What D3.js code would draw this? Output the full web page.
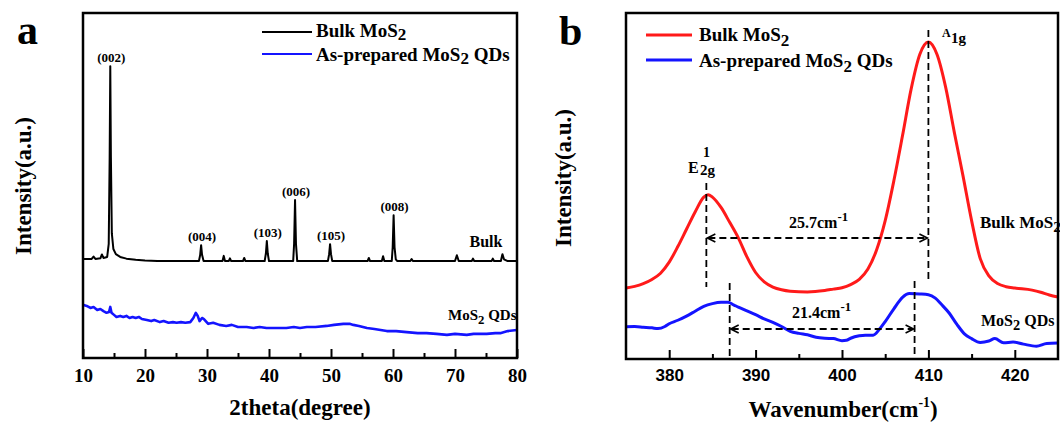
<!DOCTYPE html>
<html>
<head>
<meta charset="utf-8">
<script src="https://cdn.jsdelivr.net/npm/d3@7"></script>
<style>
  body { margin: 0; background: #fff; }
  svg text { font-family: "Liberation Serif", "Times New Roman", serif; font-weight: bold; fill: #000; }
</style>
</head>
<body>
<div id="chart"></div>
<script>
// ---------- panel a : XRD ----------
var xrdTicks = [10, 20, 30, 40, 50, 60, 70, 80];
var xrdMinor = [15, 25, 35, 45, 55, 65, 75];
// bulk MoS2, [2theta, intensity above its own baseline]
var bulkXrd = [
  [10, 0.6], [11.4, 0.6], [11.7, 1.3], [12.0, 0.6], [12.8, 0.8], [13.05, 1.9], [13.3, 0.9],
  [13.9, 1.2], [14.15, 5], [14.3, 30], [14.4, 56.5], [14.5, 30], [14.65, 8], [14.9, 3.5],
  [15.3, 2.0], [16, 1.2], [17, 0.7], [18.5, 0.35], [20, 0.15], [22, 0.05], [28.7, 0],
  [28.9, 1.8], [29.05, 4.6], [29.2, 1.8], [29.45, 0], [32.5, 0], [32.7, 1.5], [32.9, 0],
  [33.5, 0], [33.7, 0.8], [33.9, 0], [35.8, 0], [36.0, 0.9], [36.2, 0], [39.3, 0],
  [39.5, 2.2], [39.65, 5.8], [39.8, 2.2], [40.0, 0], [43.9, 0], [44.05, 5], [44.2, 17.7],
  [44.35, 5], [44.55, 0], [49.5, 0], [49.7, 2], [49.85, 4.9], [50.0, 2], [50.2, 0],
  [55.9, 0], [56.1, 0.9], [56.3, 0], [58.2, 0], [58.4, 1.4], [58.6, 0], [59.8, 0],
  [59.95, 4], [60.1, 13.3], [60.25, 4], [60.45, 0.5], [60.7, 0], [62.8, 0], [63.0, 0.6],
  [63.2, 0], [70.0, 0], [70.3, 1.7], [70.6, 0], [72.7, 0], [72.9, 0.7], [73.1, 0],
  [75.9, 0], [76.1, 0.7], [76.3, 0], [77.4, 0], [77.65, 2.0], [77.9, 0.5], [78.5, 0], [80, 0]
];
var bulkXrdOffset = 28.1;
// as-prepared MoS2 QDs
var qdXrd = [
  [10.0, 15.4], [10.6, 15.1], [11.2, 14.5], [11.7, 14.8], [12.3, 13.9], [12.8, 14.2],
  [13.3, 13.6], [13.8, 13.1], [14.2, 13.3], [14.4, 14.8], [14.6, 13.1], [15.0, 12.5],
  [15.4, 11.9], [16.0, 12.2], [16.5, 11.9], [17.0, 12.2], [17.5, 11.6], [18.0, 11.9],
  [18.5, 11.6], [19.0, 11.9], [19.5, 11.3], [20.3, 11.0], [21.0, 10.7], [21.5, 11.0],
  [22.4, 10.4], [23.0, 10.7], [23.8, 10.2], [24.5, 10.4], [25.1, 10.2], [25.8, 10.4],
  [26.5, 10.2], [27.3, 10.4], [27.8, 11.6], [28.2, 13.1], [28.5, 12.2], [28.8, 10.7],
  [29.2, 11.6], [29.5, 11.3], [30.2, 9.9], [31.0, 10.2], [32.0, 9.6], [33.1, 9.3],
  [34.0, 9.6], [35.0, 9.0], [36.4, 9.0], [37.5, 8.7], [38.5, 9.0], [39.6, 8.7],
  [41.0, 8.7], [42.8, 8.7], [44.0, 9.0], [45.0, 8.7], [46.1, 9.0], [47.5, 9.0],
  [49.3, 9.3], [50.5, 9.6], [52.0, 9.9], [53.0, 9.9], [53.6, 9.6], [54.5, 9.3],
  [55.8, 8.7], [57.0, 8.4], [59.0, 7.8], [60.5, 7.8], [62.2, 7.5], [64.0, 7.2],
  [65.4, 7.2], [67.0, 7.0], [68.7, 6.7], [70.0, 7.0], [71.9, 6.7], [73.0, 7.0],
  [75.1, 7.0], [76.5, 7.2], [77.3, 7.2], [78.5, 7.8], [80.0, 8.1]
];
var xrdLabels = ['(002)', '(004)', '(103)', '(006)', '(105)', '(008)'];
var xrdLabelPos = [14.4, 29.05, 39.65, 44.2, 49.85, 60.1];

// ---------- panel b : Raman ----------
var ramanTicks = [380, 390, 400, 410, 420];
var ramanMinor = [385, 395, 405, 415];
var bulkRaman = [
  [375, 20.5], [376, 21.0], [377, 21.8], [378, 23.0], [379, 24.8], [380, 28.0], [381, 32.5],
  [382, 37.5], [383, 42.5], [384, 46.8], [384.5, 47.5], [385, 46.8], [386, 43.8], [387, 39.5],
  [388, 35.0], [389, 29.5], [390, 25.0], [391, 22.3], [392, 20.8], [393, 20.0], [394, 19.6],
  [396, 19.4], [398, 19.8], [399, 20.2], [400, 20.6], [401, 21.5], [402, 23.0], [403, 26.0],
  [404, 31.5], [405, 40.0], [406, 51.5], [407, 64.5], [408, 78.0], [409, 88.0], [410, 91.6],
  [411, 88.0], [412, 78.5], [413, 65.5], [414, 53.0], [415, 40.0], [416, 29.0], [417, 24.0],
  [418, 21.8], [419, 20.9], [420, 20.5], [422, 19.9], [423, 19.3], [424, 18.5], [425, 17.9]
];
var qdRaman = [
  [375, 9.3], [376, 9.4], [377, 9.2], [378, 9.0], [378.7, 8.8], [379.5, 9.4], [380, 10.2],
  [381, 11.2], [382, 12.4], [383, 13.8], [384, 15.2], [385, 16.0], [386, 16.4], [386.8, 16.4],
  [387.5, 15.6], [388, 15.0], [389, 13.9], [390, 12.8], [391, 11.6], [392, 10.6], [393, 9.4],
  [394, 8.0], [395, 7.4], [396, 7.0], [397, 6.3], [398, 6.0], [399, 5.9], [400, 5.3],
  [400.5, 5.4], [401, 6.0], [402, 6.7], [402.7, 6.9], [403.6, 6.9], [404.3, 8.5], [405, 10.8],
  [406, 14.5], [407, 17.8], [407.8, 18.9], [409, 18.8], [410, 18.6], [410.8, 17.6], [411.5, 15.8],
  [412.4, 13.3], [413.3, 10.0], [414.2, 7.2], [415, 5.9], [416, 4.8], [417, 5.2], [417.7, 5.9],
  [418.7, 4.7], [419.8, 4.9], [421, 4.3], [422.5, 3.7], [423.7, 4.5], [425, 4.6]
];
var bulkModes = [384.3, 410.0];   // E2g, A1g of bulk
var qdModes = [387.0, 408.4];     // E2g, A1g of QDs

var W = 1060, H = 422;
var svg = d3.select('#chart').append('svg')
    .attr('width', W).attr('height', H)
    .attr('viewBox', [0, 0, W, H]);

// text with sub / sup parts: [[text, 'sub'|'sup'|null, scale]]
function rich(sel, parts, size, subShift) {
    var shift = 0;
    subShift = subShift || 0.25;
    parts.forEach(function (p) {
        var target = p[1] === 'sub' ? size * subShift : (p[1] === 'sup' ? -size * 0.42 : 0);
        var t = sel.append('tspan').text(p[0]).attr('dy', target - shift);
        if (p[1]) t.attr('font-size', (size * (p[2] || 0.8)) + 'px');
        shift = target;
    });
    return sel;
}

function frameAndAxis(x, y, major, minor, tickSize, pad, family) {
    var g = svg.append('g');
    var y0 = y.range()[0];
    var ax = g.append('g').attr('transform', 'translate(0,' + y0 + ')')
        .call(d3.axisBottom(x).tickValues(major).tickSize(-9).tickPadding(pad).tickFormat(d3.format('d')));
    ax.select('.domain').remove();
    ax.selectAll('line').attr('stroke', '#000').attr('stroke-width', 2);
    ax.selectAll('text').attr('font-size', tickSize + 'px')
        .style('font-family', family).style('font-weight', 'bold');
    var mn = g.append('g').attr('transform', 'translate(0,' + y0 + ')')
        .call(d3.axisBottom(x).tickValues(minor).tickSize(-5).tickFormat(''));
    mn.select('.domain').remove();
    mn.selectAll('line').attr('stroke', '#000').attr('stroke-width', 2);
    g.append('rect')
        .attr('x', x.range()[0]).attr('y', y.range()[1])
        .attr('width', x.range()[1] - x.range()[0])
        .attr('height', y.range()[0] - y.range()[1])
        .attr('fill', 'none').attr('stroke', '#000').attr('stroke-width', 2.5);
    return g;
}

/* ========== panel a ========== */
var xA = d3.scaleLinear().domain([10, 80]).range([83, 517]);
var yA = d3.scaleLinear().domain([0, 100]).range([358, 13]);

var lineA = d3.line().x(function (d) { return xA(d[0]); }).y(function (d) { return yA(d[1]); });

svg.append('path').datum(qdXrd)
    .attr('fill', 'none').attr('stroke', '#1414ff').attr('stroke-width', 2.6)
    .attr('stroke-linejoin', 'round').attr('d', lineA);
svg.append('path').datum(bulkXrd.map(function (d) { return [d[0], d[1] + bulkXrdOffset]; }))
    .attr('fill', 'none').attr('stroke', '#000').attr('stroke-width', 2)
    .attr('stroke-linejoin', 'round').attr('d', lineA);

frameAndAxis(xA, yA, xrdTicks, xrdMinor, 19, 11, '"Liberation Serif", "Times New Roman", serif');

// peak labels
xrdLabels.forEach(function (lab, i) {
    var top = d3.max(bulkXrd.filter(function (d) { return Math.abs(d[0] - xrdLabelPos[i]) < 0.3; }),
        function (d) { return d[1]; });
    svg.append('text')
        .attr('x', xA(xrdLabelPos[i]) + 1).attr('y', yA(top + bulkXrdOffset) - 4)
        .attr('text-anchor', 'middle').attr('font-size', '13px').text(lab);
});
svg.append('text').attr('x', 486).attr('y', 247).attr('text-anchor', 'middle')
    .attr('font-size', '16px').text('Bulk');
rich(svg.append('text').attr('x', 448).attr('y', 320).attr('font-size', '15px'),
    [['MoS'], ['2', 'sub', 0.85], [' QDs']], 15);

// legend a
[['#000', 32, 37, [['Bulk MoS'], ['2', 'sub', 0.9]]],
 ['#1414ff', 54, 61, [['As-prepared MoS'], ['2', 'sub', 0.9], [' QDs']]]].forEach(function (l) {
    svg.append('line').attr('x1', 262).attr('x2', 312).attr('y1', l[1]).attr('y2', l[1])
        .attr('stroke', l[0]).attr('stroke-width', 2.2);
    rich(svg.append('text').attr('x', 316).attr('y', l[2]).attr('font-size', '19px'), l[3], 19, 0.15);
});

svg.append('text').attr('x', 300).attr('y', 415).attr('text-anchor', 'middle')
    .attr('font-size', '23px').text('2theta(degree)');
svg.append('text').attr('transform', 'translate(31,186) rotate(-90)')
    .attr('text-anchor', 'middle').attr('font-size', '23px').text('Intensity(a.u.)');
svg.append('text').attr('x', 17).attr('y', 44).attr('font-size', '42px').text('a');

/* ========== panel b ========== */
var xB = d3.scaleLinear().domain([375, 425]).range([626, 1058]);
var yB = d3.scaleLinear().domain([0, 100]).range([359, 13]);
var lineB = d3.line().curve(d3.curveMonotoneX)
    .x(function (d) { return xB(d[0]); }).y(function (d) { return yB(d[1]); });

svg.append('path').datum(bulkRaman)
    .attr('fill', 'none').attr('stroke', '#ff1a1a').attr('stroke-width', 3).attr('d', lineB);
svg.append('path').datum(qdRaman)
    .attr('fill', 'none').attr('stroke', '#1414ff').attr('stroke-width', 3).attr('d', lineB);

frameAndAxis(xB, yB, ramanTicks, ramanMinor, 17, 10, '"Liberation Sans", Arial, sans-serif');

var dash = '7,4';
function vdash(xv, y1, y2) {
    svg.append('line').attr('x1', xB(xv)).attr('x2', xB(xv)).attr('y1', y1).attr('y2', y2)
        .attr('stroke', '#000').attr('stroke-width', 1.8).attr('stroke-dasharray', dash);
}
function harrow(a, b, y) {
    var x1 = xB(a), x2 = xB(b);
    svg.append('line').attr('x1', x1 + 2).attr('x2', x2 - 2).attr('y1', y).attr('y2', y)
        .attr('stroke', '#000').attr('stroke-width', 1.8).attr('stroke-dasharray', dash);
    svg.append('path').attr('d', 'M' + (x1 + 9) + ',' + (y - 4) + 'L' + (x1 + 1) + ',' + y + 'L' + (x1 + 9) + ',' + (y + 4))
        .attr('fill', 'none').attr('stroke', '#000').attr('stroke-width', 1.6);
    svg.append('path').attr('d', 'M' + (x2 - 9) + ',' + (y - 4) + 'L' + (x2 - 1) + ',' + y + 'L' + (x2 - 9) + ',' + (y + 4))
        .attr('fill', 'none').attr('stroke', '#000').attr('stroke-width', 1.6);
}
vdash(bulkModes[0], 183, 287);
vdash(bulkModes[1], 30, 282);
vdash(qdModes[0], 283, 359);
vdash(qdModes[1], 281, 359);
harrow(bulkModes[0], bulkModes[1], 238);
harrow(qdModes[0], qdModes[1], 329);

rich(svg.append('text').attr('x', 789).attr('y', 228).attr('font-size', '16px'),
    [['25.7cm'], ['-1', 'sup', 0.8]], 16);
rich(svg.append('text').attr('x', 792).attr('y', 318).attr('font-size', '16px'),
    [['21.4cm'], ['-1', 'sup', 0.8]], 16);

// mode labels
svg.append('text').attr('x', 688).attr('y', 173).attr('font-size', '16px').text('E');
svg.append('text').attr('x', 703).attr('y', 157).attr('font-size', '14px').text('1');
svg.append('text').attr('x', 700).attr('y', 175).attr('font-size', '15px').text('2g');
svg.append('text').attr('x', 942).attr('y', 37).attr('font-size', '12px').text('A');
svg.append('text').attr('x', 951).attr('y', 43).attr('font-size', '15px').text('1g');

rich(svg.append('text').attr('x', 980).attr('y', 228).attr('font-size', '17px'),
    [['Bulk MoS'], ['2', 'sub', 0.9]], 17);
rich(svg.append('text').attr('x', 981).attr('y', 326).attr('font-size', '16px'),
    [['MoS'], ['2', 'sub', 0.9], [' QDs']], 16);

// legend b
[['#ff1a1a', 35, 41, [['Bulk MoS'], ['2', 'sub', 0.9]]],
 ['#1414ff', 60, 67, [['As-prepared MoS'], ['2', 'sub', 0.9], [' QDs']]]].forEach(function (l) {
    svg.append('line').attr('x1', 646).attr('x2', 692).attr('y1', l[1]).attr('y2', l[1])
        .attr('stroke', l[0]).attr('stroke-width', 3);
    rich(svg.append('text').attr('x', 699).attr('y', l[2]).attr('font-size', '19px'), l[3], 19);
});

rich(svg.append('text').attr('x', 843).attr('y', 417).attr('text-anchor', 'middle').attr('font-size', '23px'),
    [['Wavenumber(cm'], ['-1', 'sup', 0.6], [')']], 23);
svg.append('text').attr('transform', 'translate(571,178) rotate(-90)')
    .attr('text-anchor', 'middle').attr('font-size', '23px').text('Intensity(a.u.)');
svg.append('text').attr('x', 559).attr('y', 45).attr('font-size', '42px').text('b');
</script>
</body>
</html>
